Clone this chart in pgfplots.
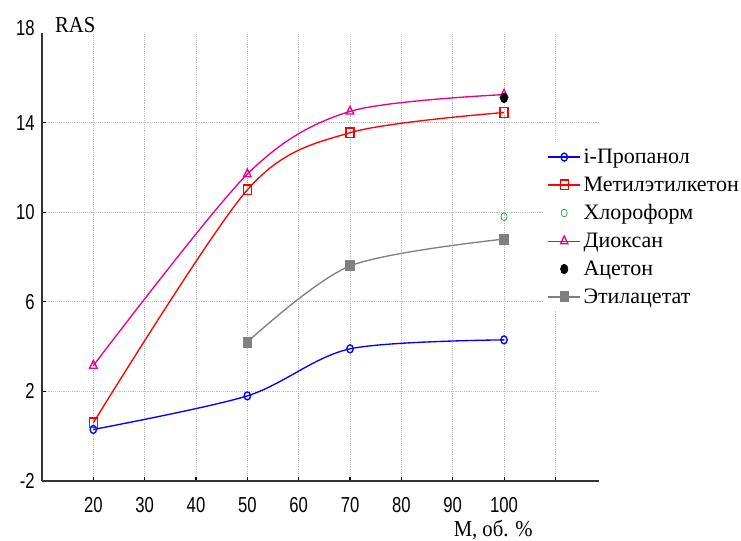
\documentclass[border=0pt]{standalone}
\usepackage{pgfplots}
\pgfplotsset{compat=1.18}
\usepackage{fontspec}
\setmainfont{Liberation Serif}
\newfontfamily\arial{Liberation Sans}
\definecolor{cgreen}{RGB}{0,140,0}
\definecolor{cgray}{RGB}{128,128,128}
\begin{document}
\begin{tikzpicture}[x=1pt,y=1pt]
\useasboundingbox (-31.5,-45) rectangle (524.25,360.75);
\begin{axis}[
 at={(0,0)}, anchor=south west,
 scale only axis, width=417.75pt, height=336pt,
 xmin=10, xmax=118.5, ymin=-2, ymax=18,
 axis x line*=bottom, axis y line*=left,
 axis line style={line width=1.1pt, black!80},
 xtick={20,30,...,110}, xticklabels={20,30,40,50,60,70,80,90,100,{}},
 ytick={-2,2,6,10,14}, extra y ticks={18},
 extra y tick style={grid=none, major tick length=0pt, yticklabel style={yshift=3pt}},
 grid=major, grid style={densely dotted, gray!50, line width=0.6pt},
 tick align=inside, major tick length=3pt, tick style={black, line width=0.8pt},
 ticklabel style={font=\arial\fontsize{12.5}{14}\selectfont, yscale=1.3},
 /pgf/number format/assume math mode=true,
 xticklabel style={yshift=-6pt},
 yticklabel style={xshift=-2pt},
 clip=false,
 legend style={at={(0.9,0.754)}, anchor=north west, draw=none, fill=white,
   font=\rmfamily\fontsize{16.5}{18}\selectfont, row sep=4.5pt, cells={anchor=west}},
 legend cell align=left,
 legend image code/.code={\draw[mark repeat=2,mark phase=2,#1] plot coordinates {(0pt,0pt) (12pt,0pt) (24pt,0pt)};},
]
\addplot[blue, line width=1pt, smooth, mark=o, mark size=2.4pt, mark options={solid, yscale=1.25}]
  coordinates {(20,0.3) (50,1.8) (70,3.9) (100,4.3)};
\addlegendentry{i-Пропанол}
\addplot[red, line width=1pt, smooth, mark=square, mark size=3pt, mark options={solid, yscale=1.2}]
  coordinates {(20,0.6) (50,11.0) (70,13.55) (100,14.45)};
\addlegendentry{Метилэтилкетон}
\addplot[cgreen, only marks, mark=o, mark size=2.3pt, mark options={yscale=1.25}]
  coordinates {(100,9.8)};
\addlegendentry{Хлороформ}
\addplot[magenta, line width=1pt, smooth, mark=triangle, mark size=3.2pt, mark options={solid, yscale=1.2}]
  coordinates {(20,3.15) (50,11.7) (70,14.5) (100,15.25)};
\addlegendentry{Диоксан}
\addplot[black, only marks, mark=*, mark size=2.8pt, mark options={yscale=1.3}]
  coordinates {(100,15.1)};
\addlegendentry{Ацетон}
\addplot[cgray, line width=1pt, smooth, mark=square*, mark size=3pt, mark options={solid, yscale=1.2}]
  coordinates {(50,4.2) (70,7.6) (100,8.8)};
\addlegendentry{Этилацетат}
\node[anchor=base west, font=\rmfamily\fontsize{15.5}{17}\selectfont, yscale=1.1] at (rel axis cs:0.015,1) {RAS};
\node[anchor=base, font=\rmfamily\fontsize{15.5}{17}\selectfont, yscale=1.1] at (rel axis cs:0.81,0) [yshift=-37.5pt] {M, об. \%};
\end{axis}
\end{tikzpicture}
\end{document}
